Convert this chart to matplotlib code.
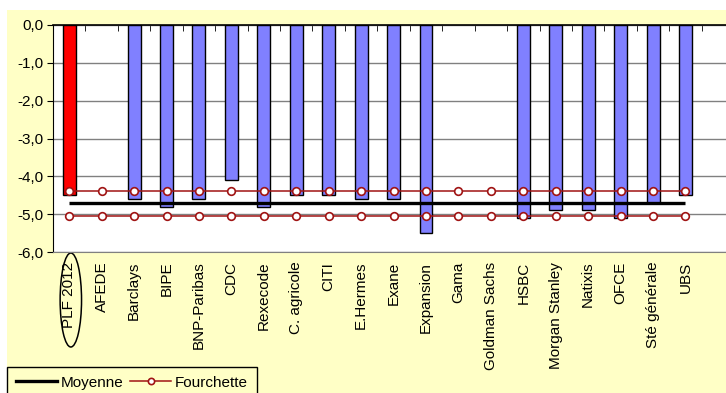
import numpy as np
import matplotlib
matplotlib.use("Agg")
import matplotlib.pyplot as plt
import matplotlib.transforms as mtransforms
from matplotlib.patches import Rectangle, Ellipse
from matplotlib.lines import Line2D

plt.rcParams['font.family'] = ['Liberation Sans', 'DejaVu Sans']

# Solde public prévu (% du PIB) par institut
instituts = ["PLF 2012", "AFEDE", "Barclays", "BIPE", "BNP-Paribas", "CDC",
             "Rexecode", "C. agricole", "CITI", "E.Hermes", "Exane", "Expansion",
             "Gama", "Goldman Sachs", "HSBC", "Morgan Stanley", "Natixis", "OFCE",
             "Sté générale", "UBS"]
soldes = [-4.5, np.nan, -4.6, -4.8, -4.6, -4.1, -4.8, -4.5, -4.5, -4.6, -4.6, -5.5,
          np.nan, np.nan, -5.1, -4.9, -4.9, -5.1, -4.7, -4.5]
moyenne = -4.7
fourchette_haut = -4.4
fourchette_bas = -5.05
y_ticks = [0, -1, -2, -3, -4, -5, -6]

jaune = "#FFFFC6"
bleu = "#8080FF"
rouge_f = "#A01414"

fig = plt.figure(figsize=(7.26, 3.93), dpi=100)
fig.patch.set_facecolor("white")
# fond jaune de la zone graphique
fig.patches.append(Rectangle((7 / 726, 0), 1, 1 - 10 / 393, transform=fig.transFigure,
                             facecolor=jaune, edgecolor="none", zorder=-10))

ax = fig.add_axes([53 / 726, 1 - 252 / 393, 1 - 53 / 726, (252 - 25) / 393])
ax.set_facecolor("white")

x = np.arange(len(instituts))
couleurs = ["#FF0000"] + [bleu] * (len(instituts) - 1)
ax.bar(x, soldes, width=0.4, color=couleurs, edgecolor="black", linewidth=1, zorder=2)

ax.plot(x, [moyenne] * len(x), color="black", lw=2.4, zorder=3, solid_capstyle="butt")
for niveau in (fourchette_haut, fourchette_bas):
    ax.plot(x, [niveau] * len(x), color=rouge_f, lw=1.1, marker="o", ms=5.5,
            mfc="white", mec=rouge_f, mew=1.2, zorder=4)

ax.set_ylim(-6, 0)
ax.set_xlim(-0.5, 20.25)
ax.set_yticks(y_ticks)
ax.set_yticklabels([f"{v:.1f}".replace(".", ",") for v in y_ticks], fontsize=11)
ax.yaxis.grid(True, color="#808080", lw=1)
ax.set_axisbelow(True)

ax.set_xticks(x)
ax.set_xticklabels(instituts, rotation=90, fontsize=11, va="top")
ax.tick_params(axis="x", which="major", length=0, pad=7)
ax.set_xticks(np.arange(-0.5, 20.5, 1), minor=True)
ax.tick_params(axis="x", which="minor", bottom=False, top=True, direction="in",
               length=4, color="black")
ax.tick_params(axis="y", length=4, color="black", pad=3)

ax.spines["right"].set_visible(False)
ax.spines["top"].set_color("black")
ax.spines["top"].set_linewidth(1.2)
ax.spines["left"].set_color("black")
ax.spines["bottom"].set_color("#808080")

# ellipse autour de PLF 2012
trans = mtransforms.blended_transform_factory(ax.transData, fig.transFigure)
ax.add_patch(Ellipse((0.05, 1 - 300 / 393), 0.66, 94 / 393, transform=trans,
                     facecolor="none", edgecolor="black", lw=1.1, clip_on=False))

handles = [Line2D([], [], color="black", lw=2.4),
           Line2D([], [], color=rouge_f, lw=1.1, marker="o", ms=4.5, mfc="white",
                  mec=rouge_f, mew=1.2)]
leg = fig.legend(handles, ["Moyenne", "Fourchette"], ncol=2, loc="lower left",
                 bbox_to_anchor=(7 / 726, -0.015), fontsize=11, frameon=True,
                 fancybox=False, edgecolor="black", facecolor=jaune, framealpha=1,
                 handlelength=2.7, handletextpad=0.25, columnspacing=0.4,
                 borderpad=0.6, borderaxespad=0)
leg.get_frame().set_linewidth(1)

fig.savefig("out.png", dpi=100, facecolor=fig.get_facecolor())
